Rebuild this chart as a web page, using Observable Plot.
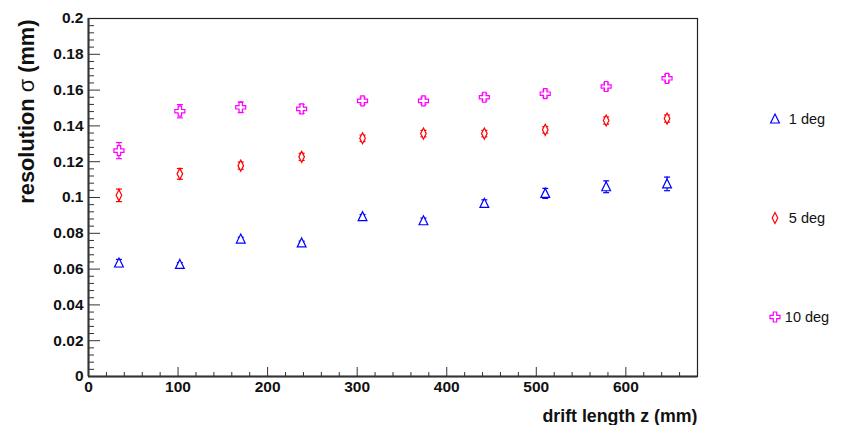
<!DOCTYPE html>
<html><head><meta charset="utf-8">
<script src="https://cdn.jsdelivr.net/npm/d3@7"></script>
<script src="https://cdn.jsdelivr.net/npm/@observablehq/plot@0.6"></script>
<style>
body{margin:0;background:#fff;}
#wrap{position:relative;width:842px;height:425px;overflow:hidden;background:#fff;}
</style></head><body><div id="wrap"></div>
<script>
// ---- data ----
const driftZ  = [34, 102, 170, 238, 306, 374, 442, 510, 578, 646];
const sigma1  = [0.0634, 0.0626, 0.0768, 0.0746, 0.0893, 0.0870, 0.0967, 0.1023, 0.1060, 0.1076];
const err1    = [0.0020, 0.0010, 0.0010, 0.0010, 0.0012, 0.0015, 0.0020, 0.0028, 0.0033, 0.0038];
const sigma5  = [0.1012, 0.1132, 0.1178, 0.1227, 0.1331, 0.1357, 0.1357, 0.1378, 0.1430, 0.1441];
const err5    = [0.0035, 0.0030, 0.0020, 0.0020, 0.0018, 0.0018, 0.0018, 0.0018, 0.0020, 0.0020];
const sigma10 = [0.1262, 0.1482, 0.1504, 0.1495, 0.1540, 0.1540, 0.1560, 0.1580, 0.1620, 0.1666];
const err10   = [0.0045, 0.0037, 0.0030, 0.0025, 0.0020, 0.0020, 0.0020, 0.0020, 0.0020, 0.0020];
const seriesNames  = ["1 deg", "5 deg", "10 deg"];
const seriesColors = ["#0000ff", "#ff0000", "#ff00ff"];
const xTicks = [0, 100, 200, 300, 400, 500, 600];
const xMinorTicks = [20,40,60,80,120,140,160,180,220,240,260,280,320,340,360,380,420,440,460,480,520,540,560,580,620,640,660];
const yTicks = [0, 0.02, 0.04, 0.06, 0.08, 0.1, 0.12, 0.14, 0.16, 0.18, 0.2];
const yMinorTicks = [0.004,0.008,0.012,0.016,0.024,0.028,0.032,0.036,0.044,0.048,0.052,0.056,0.064,0.068,0.072,0.076,0.084,0.088,0.092,0.096,0.104,0.108,0.112,0.116,0.124,0.128,0.132,0.136,0.144,0.148,0.152,0.156,0.164,0.168,0.172,0.176,0.184,0.188,0.192,0.196];
const xTitle = "drift length z (mm)";
const yTitle = "resolution σ (mm)";

// ---- symbols ----
const triSym = {draw(c){c.moveTo(0,-5);c.lineTo(4.4,4);c.lineTo(-4.4,4);c.closePath();}};
const diaSym = {draw(c){c.moveTo(0,-5.5);c.lineTo(2.8,0);c.lineTo(0,5.5);c.lineTo(-2.8,0);c.closePath();}};
const crossSym = {draw(c){const a=5,b=1.7;
  c.moveTo(-b,-a);c.lineTo(b,-a);c.lineTo(b,-b);c.lineTo(a,-b);c.lineTo(a,b);c.lineTo(b,b);
  c.lineTo(b,a);c.lineTo(-b,a);c.lineTo(-b,b);c.lineTo(-a,b);c.lineTo(-a,-b);c.lineTo(-b,-b);c.closePath();}};
const capSym = {draw(c){c.moveTo(-3,0);c.lineTo(3,0);}};
const seriesSyms = [triSym, diaSym, crossSym];

const series = [sigma1, sigma5, sigma10];
const errs = [err1, err5, err10];
const rows = series.flatMap((vals, s) => vals.map((v, i) => ({
  series: seriesNames[s], s, x: driftZ[i], y: v, lo: v - errs[s][i], hi: v + errs[s][i]
})));

const tickFont = "'Liberation Sans Narrow', 'Arial Narrow', 'Liberation Sans', Arial, sans-serif";
const titleFont = "'Liberation Sans', Arial, Helvetica, sans-serif";
const fmt = d => String(+d.toFixed(3));
const blank = () => "";

const marks = [
  Plot.axisY({ticks: yTicks, tickSize: -12, tickFormat: blank, label: null, stroke: "#333"}),
  Plot.axisY({ticks: yMinorTicks, tickSize: -6, tickFormat: blank, label: null, stroke: "#333"}),
  Plot.axisY({ticks: yTicks, tickSize: 0, tickPadding: 5, tickFormat: fmt, label: null,
    fontFamily: tickFont, fontSize: 15.5, fontWeight: "bold", fill: "#111"}),
  Plot.axisX({ticks: xTicks, tickSize: -9, tickFormat: blank, label: null, stroke: "#333"}),
  Plot.axisX({ticks: xMinorTicks, tickSize: -4, tickFormat: blank, label: null, stroke: "#333"}),
  Plot.axisX({ticks: xTicks, tickSize: 0, tickPadding: 4, tickFormat: fmt, label: null,
    fontFamily: tickFont, fontSize: 15.5, fontWeight: "bold", fill: "#111"}),
  Plot.frame({stroke: "#222", strokeWidth: 1.2}),
  Plot.ruleX([0], {stroke: "#333", strokeWidth: 2}),
  Plot.ruleY([0], {stroke: "#333", strokeWidth: 2}),
];
series.forEach((_, s) => {
  const d = rows.filter(r => r.s === s);
  const col = seriesColors[s];
  marks.push(
    Plot.ruleX(d, {x: "x", y1: "lo", y2: "hi", stroke: col, strokeWidth: 1.2}),
    Plot.dot(d, {x: "x", y: "lo", symbol: capSym, stroke: col, strokeWidth: 1.2}),
    Plot.dot(d, {x: "x", y: "hi", symbol: capSym, stroke: col, strokeWidth: 1.2}),
    Plot.dot(d, {x: "x", y: "y", symbol: seriesSyms[s], stroke: col, fill: "white", strokeWidth: 1.2})
  );
});
marks.push(
  Plot.text([xTitle], {text: d => d, frameAnchor: "bottom-right", textAnchor: "end", lineAnchor: "bottom",
    dy: 45, fontSize: 17.8, fontWeight: "bold", fontFamily: titleFont, fill: "#111"}),
  Plot.text([yTitle], {text: d => d, frameAnchor: "top-left", rotate: -90, textAnchor: "end", lineAnchor: "middle",
    dx: -61, dy: 1, fontSize: 21.8, fontWeight: "bold", fontFamily: titleFont, fill: "#111"})
);

const chart = Plot.plot({
  width: 842, height: 425,
  marginLeft: 88, marginRight: 145, marginTop: 18, marginBottom: 49,
  x: {domain: [0, 680]},
  y: {domain: [0, 0.2]},
  style: {background: "white", fontFamily: titleFont, overflow: "visible"},
  marks
});

// sigma in regular weight
d3.select(chart).selectAll("text").each(function() {
  if (this.textContent === yTitle) {
    const t = d3.select(this);
    t.text(null);
    t.append("tspan").text("resolution ");
    t.append("tspan").attr("font-weight", "normal").text("σ");
    t.append("tspan").text(" (mm)");
  }
});

// legend
const svg = d3.select(chart);
const lg = svg.append("g").attr("class", "legend");
const legendY = [119, 218, 317];
seriesNames.forEach((name, s) => {
  const p = d3.path(); seriesSyms[s].draw(p);
  lg.append("path").attr("d", p.toString())
    .attr("transform", `translate(775,${legendY[s]})`)
    .attr("fill", "white").attr("stroke", seriesColors[s]).attr("stroke-width", 1.2);
  lg.append("text").attr("x", 807).attr("y", legendY[s]).attr("dy", "0.35em")
    .attr("text-anchor", "middle").attr("font-size", 14.5)
    .attr("font-family", titleFont).attr("fill", "#111").text(name);
});

document.getElementById("wrap").appendChild(chart);
</script></body></html>
